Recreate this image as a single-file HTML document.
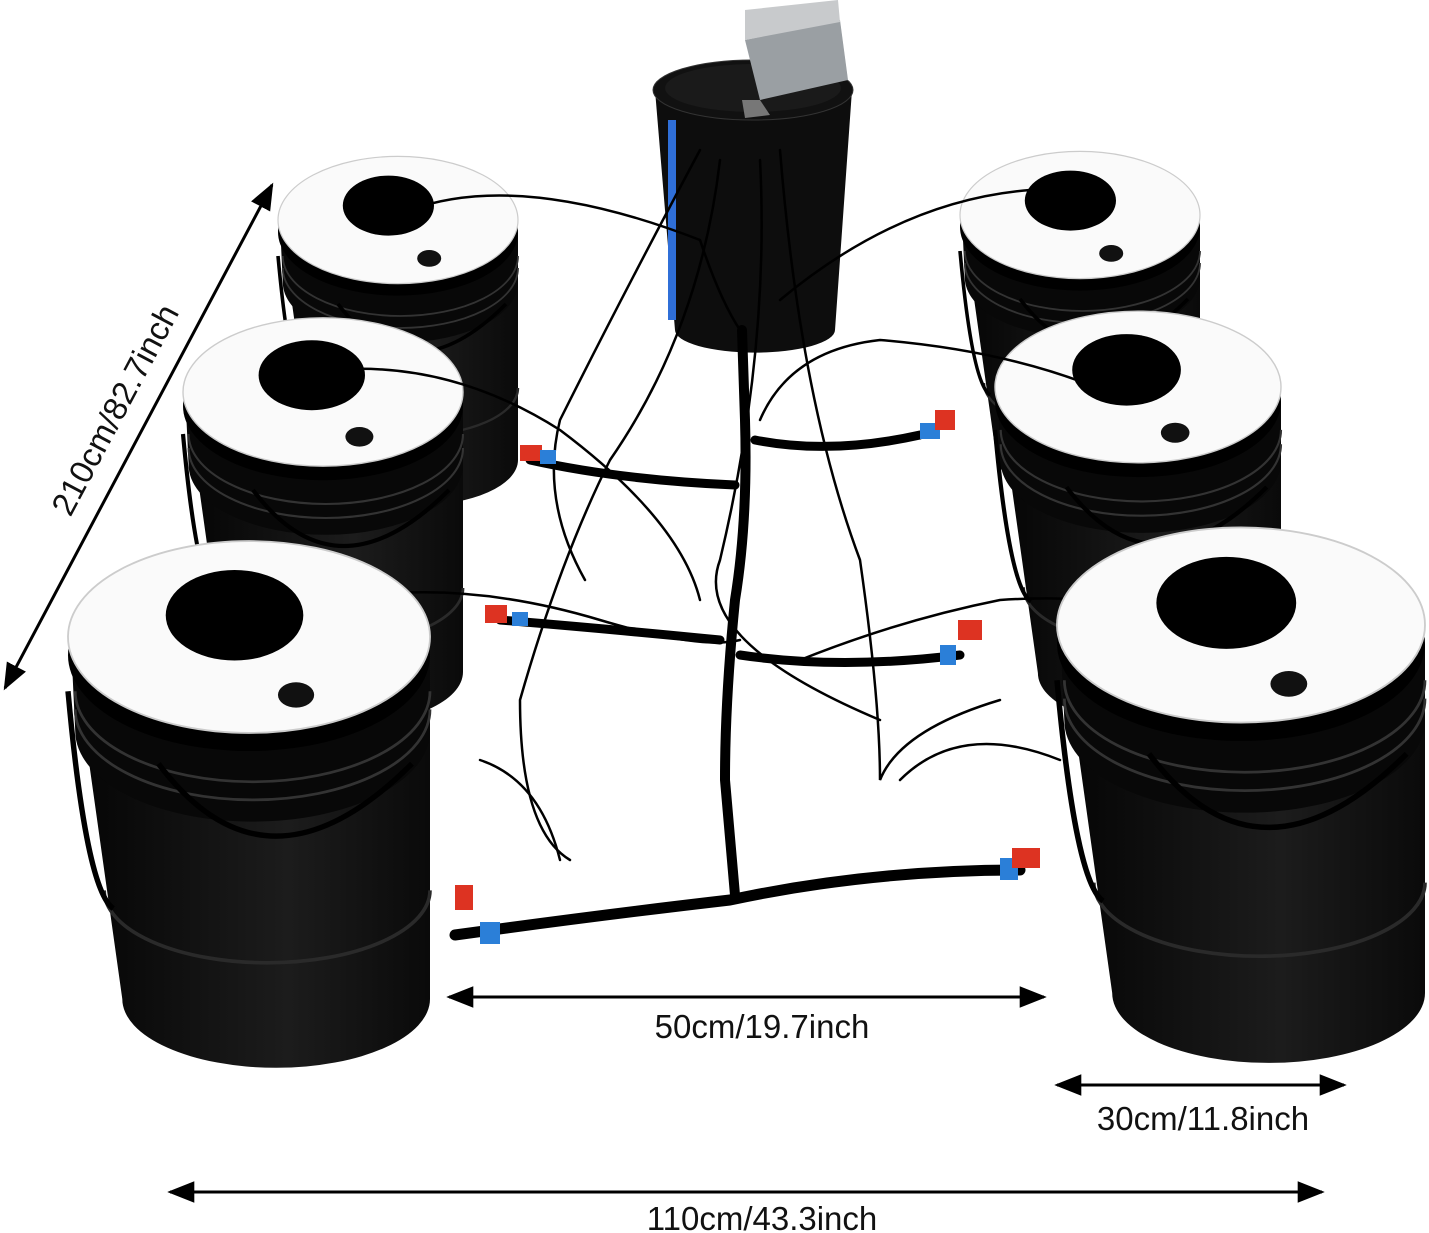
<!DOCTYPE html>
<html><head><meta charset="utf-8"><style>
body{margin:0;background:#fff;width:1429px;height:1233px;overflow:hidden}
svg{display:block}
</style></head><body>
<svg width="1429" height="1233" viewBox="0 0 1429 1233" xmlns="http://www.w3.org/2000/svg">
<defs>
<linearGradient id="bg" x1="0" x2="1" y1="0" y2="0">
<stop offset="0" stop-color="#050505"/><stop offset="0.6" stop-color="#1c1c1c"/><stop offset="1" stop-color="#0a0a0a"/>
</linearGradient>
<g id="bk">
<path d="M-96 15 L-70 200 A85 38 0 0 0 100 200 L100 15 Z" fill="url(#bg)"/>
<path d="M-98 10 L-96 52 A98 50 0 0 0 100 52 L100 10 Z" fill="#080808"/>
<path d="M-96 30 A98 50 0 0 0 100 30" fill="none" stroke="#333" stroke-width="1.5"/>
<path d="M-96 40 A98 50 0 0 0 100 40" fill="none" stroke="#333" stroke-width="1.5"/>
<path d="M-80 140 A90 40 0 0 0 100 140" fill="none" stroke="#2a2a2a" stroke-width="2"/>
<path d="M-100 30 Q-90 140 -75 150 M -50 70 Q10 150 90 70" fill="none" stroke="#000" stroke-width="3"/>
<ellipse cx="0" cy="10" rx="100" ry="53" fill="#000"/>
<ellipse cx="0" cy="0" rx="100" ry="53" fill="#fafafa" stroke="#ccc" stroke-width="1"/>
<ellipse cx="-8" cy="-12" rx="38" ry="25" fill="#000"/>
<ellipse cx="26" cy="32" rx="10" ry="7" fill="#111"/>
</g>
<marker id="ar" viewBox="0 0 10 10" refX="9" refY="5" markerWidth="9" markerHeight="9" orient="auto-start-reverse"><path d="M0 1 L10 5 L0 9 Z" fill="#000"/></marker>
</defs>

<path d="M655 90 L675 330 A78 22 0 0 0 835 330 L852 90 Z" fill="#0d0d0d"/>
<ellipse cx="753" cy="90" rx="100" ry="30" fill="#111" stroke="#333"/>
<ellipse cx="753" cy="88" rx="88" ry="24" fill="#1a1a1a"/>
<rect x="668" y="120" width="8" height="200" fill="#2f6fd8"/>
<path d="M745 40 L840 20 L848 80 L760 100 Z" fill="#9a9fa3"/>
<path d="M745 10 L838 0 L840 22 L745 40 Z" fill="#c8cacc"/>
<path d="M742 100 L760 100 L770 115 L745 118Z" fill="#777"/>

<use href="#bk" transform="translate(398,220) scale(1.2)"/>
<use href="#bk" transform="translate(1080,215) scale(1.2)"/>
<use href="#bk" transform="translate(323,392) scale(1.4)"/>
<use href="#bk" transform="translate(1138,387) scale(1.43)"/>

<g fill="none" stroke="#000" stroke-linecap="round">
<path d="M742 330 L745 420 Q748 520 735 600 Q725 700 725 780 L735 895" stroke-width="10"/>
<path d="M530 460 Q620 480 735 485" stroke-width="9"/>
<path d="M755 440 Q830 455 920 435" stroke-width="9"/>
<path d="M500 620 Q620 630 720 640" stroke-width="9"/>
<path d="M740 655 Q840 670 960 655" stroke-width="9"/>
<path d="M455 935 Q600 915 730 900 Q870 870 1020 870" stroke-width="11"/>
<g stroke-width="2.5">
<path d="M410 210 Q520 170 700 240 Q720 300 740 330"/>
<path d="M1030 190 Q900 200 780 300"/>
<path d="M330 370 Q450 360 560 430 Q680 520 700 600"/>
<path d="M1090 385 Q1000 350 880 340 Q790 350 760 420"/>
<path d="M240 630 Q400 560 600 620 Q700 650 740 640"/>
<path d="M1180 640 Q1150 590 1000 600 Q900 620 800 660"/>
<path d="M700 150 Q620 300 560 420 Q540 500 585 580"/>
<path d="M720 160 Q700 330 610 460 Q560 560 520 700 Q520 830 570 860"/>
<path d="M760 160 Q770 350 720 560 Q690 640 880 720"/>
<path d="M780 150 Q800 400 860 560 Q880 700 880 780 Q900 730 1000 700"/>
<path d="M480 760 Q540 780 560 860 M900 780 Q960 720 1060 760"/>
</g>
</g>
<g>
<rect x="520" y="445" width="22" height="16" fill="#d32"/><rect x="540" y="450" width="16" height="14" fill="#2b7fd8"/>
<rect x="920" y="423" width="20" height="16" fill="#2b7fd8"/><rect x="935" y="410" width="20" height="20" fill="#d32"/>
<rect x="485" y="605" width="22" height="18" fill="#d32"/><rect x="512" y="612" width="16" height="14" fill="#2b7fd8"/>
<rect x="940" y="645" width="16" height="20" fill="#2b7fd8"/><rect x="958" y="620" width="24" height="20" fill="#d32"/>
<rect x="455" y="885" width="18" height="25" fill="#d32"/><rect x="480" y="922" width="20" height="22" fill="#2b7fd8"/>
<rect x="1000" y="858" width="18" height="22" fill="#2b7fd8"/><rect x="1012" y="848" width="28" height="20" fill="#d32"/>
</g>

<use href="#bk" transform="translate(249,637) scale(1.81)"/>
<use href="#bk" transform="translate(1241,625) scale(1.84)"/>

<g stroke="#000" stroke-width="3" fill="none" marker-start="url(#ar)" marker-end="url(#ar)">
<line x1="272" y1="185" x2="5" y2="688"/>
<line x1="449" y1="997" x2="1044" y2="997"/>
<line x1="1057" y1="1085" x2="1344" y2="1085"/>
<line x1="170" y1="1192" x2="1322" y2="1192"/>
</g>
<g font-family="Liberation Sans, sans-serif" font-size="33" fill="#111" text-anchor="middle">
<text x="762" y="1038">50cm/19.7inch</text>
<text x="1203" y="1130">30cm/11.8inch</text>
<text x="762" y="1230">110cm/43.3inch</text>
<text x="0" y="0" transform="translate(125,415) rotate(-62)">210cm/82.7inch</text>
</g>
</svg>
</body></html>
